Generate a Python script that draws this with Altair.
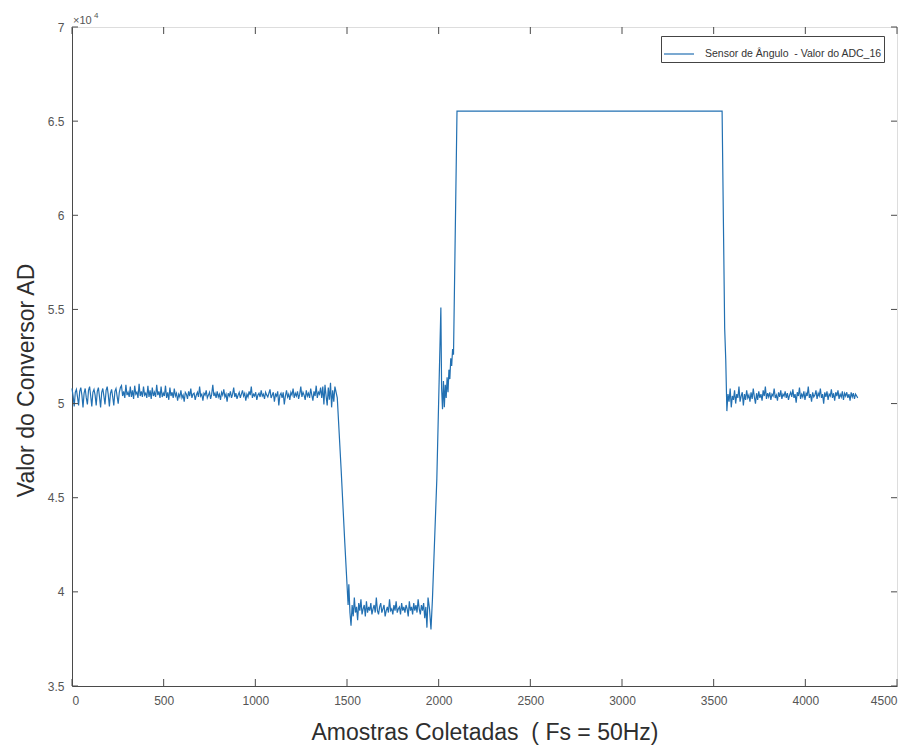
import altair as alt
import pandas as pd

NB = "\u00a0"
SERIES = f"Sensor de Ângulo {NB}- Valor do ADC_16"
X_TITLE = f"Amostras Coletadas {NB}( Fs = 50Hz)"
LINE = "#2270b2"
AXIS_GRAY = "#4a4a4a"
LABEL_GRAY = "#555555"
FONT = "Liberation Sans, Arial, sans-serif"

W, H = 825, 659

x_ticks = [0, 500, 1000, 1500, 2000, 2500, 3000, 3500, 4000, 4500]
y_ticks = [35000, 40000, 45000, 50000, 55000, 60000, 65000, 70000]

# resting level before the first movement (one reading every 6 samples)
rest_a_start, rest_a_step = 0, 6
rest_a = [
    # regular downward spikes
    50800, 50400, 49850, 50600, 50750, 50350, 49900, 50650,
    50850, 50450, 49800, 50550, 50800, 50300, 49950, 50700,
    50900, 50400, 49850, 50600, 50750, 50450, 49900, 50650,
    50850, 50350, 49800, 50600, 50800, 50400, 49950, 50700,
    50900, 50450, 49850, 50550, 50750, 50350, 49900, 50650,
    50800, 50400, 50000, 50600, 50850,
    # regular upward spikes
    50950, 50400, 50650, 50300, 51000, 50450, 50600, 50350,
    50900, 50350, 50700, 50250, 50950, 50500, 50600, 50300,
    51050, 50400, 50650, 50350, 50900, 50450, 50550, 50300,
    50950, 50350, 50700, 50250, 50850, 50400, 50600, 50350,
    51000, 50450, 50650, 50300, 50900, 50350, 50550, 50400,
    50950, 50300, 50600, 50200, 50850, 50400, 50600, 50300,
    50800,
    # irregular noise
    50400, 50550, 50150, 50500, 50350, 50700, 50300, 50450, 50100, 50600,
    50500, 50250, 50650, 50400, 50800, 50300, 50500, 50550, 50200, 50450,
    50600, 50350, 50900, 50400, 50500, 50150, 50550, 50450, 50700, 50300,
    50450, 50600, 50250, 50500, 51000, 50400, 50550, 50300, 50650, 50350,
    50500, 50200, 50600, 50450, 50750, 50350, 50500, 50100, 50550, 50400,
    50650, 50300, 50500, 50850, 50350, 50550, 50250, 50450, 50600, 50300,
    50500, 50700, 50400, 50550, 50150, 50500, 50350, 50650, 50450, 50900,
    50300, 50500, 50400, 50600, 50200, 50450, 50550, 50350, 50700, 50400,
    50500, 50250, 50600, 50450, 50350, 50550, 50750, 50300, 50450, 50600,
    50100, 50500, 50400, 50650, 49900, 50450, 50550, 50300, 50600, 49950,
    50400, 50700, 50350, 50500, 50200, 50600, 50450, 50800, 50300, 50550,
    50400, 50650, 50250, 50500, 50900, 50350, 50600, 50450, 50200, 50700,
    50400, 50550, 50300, 50800, 50450, 50150, 50650, 50400, 50950, 50300,
    50600, 50500, 50850,
    # just before the movement
    50300, 50900, 49950, 51000, 50400, 49900, 50850, 50200, 51100, 49800,
    50700, 50100, 50900,
]

# falling edge into the low position
fall_x = [1447, 1468, 1488, 1506]
fall_y = [50300, 46500, 42600, 39300]

# low position
low_start, low_step = 1510, 6
low = [
    40400, 38900, 38200, 39300, 38700, 39700, 38900, 39200, 38500, 39400,
    39000, 39600, 38800, 39100, 39300, 38700, 39500, 38900, 39200, 39000,
    39400, 38800, 39100, 39300, 38900, 39700, 39000, 38800, 39200, 39400,
    38900, 39100, 39300, 38700, 39000, 39200, 38900, 39600, 39000, 39100,
    38800, 39300, 39000, 39500, 38900, 39100, 39200, 38800, 39400, 39000,
    39200, 38900, 39300, 39100, 38700, 39500, 39000, 39200, 38800, 39400,
    39000, 39300, 38900, 39600, 39100, 38800, 39300, 39000, 39400, 38600,
    39200, 38100, 39700,
]

# rising edge with its overshoot
rise_x = [1950, 1958, 1966, 1990, 2012]
rise_y = [39100, 38000, 39600, 46000, 55100]

knee_start, knee_step = 2016, 5
knee = [50800, 49700, 51200, 49800, 51000, 50300, 51400, 50600, 51800, 51300,
        52400, 52000, 52900, 52600]

# converter saturated at full scale
sat_x = [2100, 3546]
sat_y = [65535, 65535]

drop_x = [3560, 3566]
drop_y = [54000, 52300]

# resting level after returning
rest_b_start, rest_b_step = 3572, 6
rest_b = [
    49600, 50500, 50100, 50800, 49800, 50400, 50200, 50700, 50000, 50500,
    50300, 50900, 50100, 50400, 50600, 49900, 50500, 50200, 50700, 50300,
    50450, 50100, 50600, 50250, 50800, 50350, 50000, 50550, 50200, 50650,
    50300, 50500, 50150, 50700, 50400, 50900, 50250, 50550, 50350, 50600,
    50200, 50500, 50400, 50800, 50300, 50450, 50150, 50600, 50350, 50700,
    50250, 50500, 50400, 50650, 50300, 50550, 50200, 50450, 50600, 50350,
    50750, 50300, 50500, 50050, 50600, 50400, 50850, 50250, 50500, 50350,
    50650, 50200, 50550, 50400, 50900, 50300, 50500, 50100, 50600, 50350,
    50450, 50700, 50250, 50550, 50400, 50800, 50300, 50500, 50000, 50600,
    50350, 50650, 50200, 50500, 50400, 50750, 50300, 50550, 50150, 50600,
    50400, 50700, 50250, 50500, 50350, 50650, 50200, 50550, 50400, 50600,
    50300, 50500, 50150, 50600, 50350, 50550, 50250, 50500, 50400, 50300,
]


def regular(start, step, values):
    return [start + i * step for i in range(len(values))], values


parts = [
    regular(rest_a_start, rest_a_step, rest_a),
    (fall_x, fall_y),
    regular(low_start, low_step, low),
    (rise_x, rise_y),
    regular(knee_start, knee_step, knee),
    (sat_x, sat_y),
    (drop_x, drop_y),
    regular(rest_b_start, rest_b_step, rest_b),
]
xs, ys = [], []
for px, py in parts:
    xs += list(px)
    ys += list(py)

df = pd.DataFrame({"sample": xs, "adc": ys, "series": SERIES})

x_scale = alt.Scale(domain=[0, 4500], nice=False, zero=False)
y_scale = alt.Scale(domain=[35000, 70000], nice=False, zero=False)

line = alt.Chart(df).mark_line(strokeWidth=1.2, strokeJoin="miter").encode(
    x=alt.X(
        "sample:Q", scale=x_scale,
        axis=alt.Axis(
            values=x_ticks, format="d", title=X_TITLE,
            ticks=False, grid=False, labelFont=FONT, labelFontSize=12,
            labelColor=LABEL_GRAY, labelPadding=9, domainColor=AXIS_GRAY,
            titleFont=FONT, titleFontSize=23, titleFontWeight="normal",
            titleColor="#2e2e2e", titlePadding=15,
        ),
    ),
    y=alt.Y(
        "adc:Q", scale=y_scale,
        axis=alt.Axis(
            values=y_ticks, labelExpr="datum.value / 10000",
            title="Valor do Conversor AD",
            ticks=False, grid=False, labelFont=FONT, labelFontSize=12,
            labelColor=LABEL_GRAY, labelPadding=8, domainColor=AXIS_GRAY,
            titleFont=FONT, titleFontSize=23, titleFontWeight="normal",
            titleColor="#2e2e2e", titleX=-34, titleY=353,
        ),
    ),
    color=alt.Color(
        "series:N", scale=alt.Scale(range=[LINE]),
        legend=alt.Legend(
            title=None, orient="none", legendX=589, legendY=9,
            symbolType="stroke", symbolSize=900, symbolStrokeWidth=1.2,
            labelFont=FONT, labelFontSize=10.5, labelColor="#333",
            labelOffset=10, labelLimit=400, strokeColor="#444",
            fillColor="white", padding=2, cornerRadius=0,
        ),
    ),
    order="sample:Q",
)

# inward tick marks on all four sides
xt = pd.DataFrame({"sample": x_ticks})
yt = pd.DataFrame({"adc": y_ticks})
tick_style = dict(color=AXIS_GRAY, strokeWidth=1)
bottom_ticks = alt.Chart(xt).mark_rule(**tick_style).encode(
    x="sample:Q", y=alt.value(H), y2=alt.value(H - 7))
top_ticks = alt.Chart(xt).mark_rule(**tick_style).encode(
    x="sample:Q", y=alt.value(0), y2=alt.value(7))
left_ticks = alt.Chart(yt).mark_rule(**tick_style).encode(
    y="adc:Q", x=alt.value(0), x2=alt.value(6))
right_ticks = alt.Chart(yt).mark_rule(**tick_style).encode(
    y="adc:Q", x=alt.value(W), x2=alt.value(W - 6))

# axis exponent
exp_base = alt.Chart(pd.DataFrame({"t": ["×10"]})).mark_text(
    align="left", baseline="alphabetic", font=FONT, fontSize=11, color=LABEL_GRAY
).encode(text="t:N", x=alt.value(1), y=alt.value(-3))
exp_pow = alt.Chart(pd.DataFrame({"t": ["4"]})).mark_text(
    align="left", baseline="alphabetic", font=FONT, fontSize=8, color=LABEL_GRAY
).encode(text="t:N", x=alt.value(22), y=alt.value(-9))

chart = alt.layer(
    line, bottom_ticks, top_ticks, left_ticks, right_ticks, exp_base, exp_pow
).properties(
    width=W, height=H,
    autosize=alt.AutoSizeParams(type="none"),
    padding={"left": 72, "top": 27, "right": 16, "bottom": 60},
).configure_view(
    stroke=AXIS_GRAY, strokeWidth=1
).configure(background="white")

chart.save("out.html", embed_options={"renderer": "svg", "actions": False})
